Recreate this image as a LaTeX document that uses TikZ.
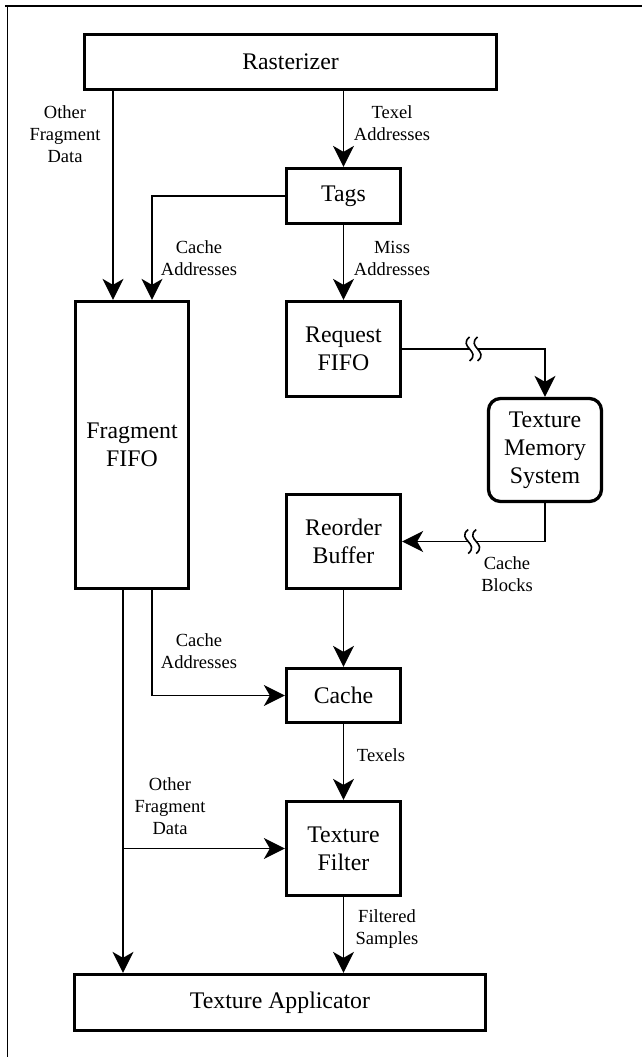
\documentclass[tikz,border=0pt]{standalone}
\usepackage{fontspec}
\setmainfont{Liberation Serif}
\usetikzlibrary{arrows.meta,calc}
\begin{document}
\begin{tikzpicture}[x=1pt,y=-1pt,
  box/.style={draw,line width=3.3pt,inner sep=0pt,align=center,font=\fontsize{23.8}{28}\selectfont},
  lbl/.style={inner sep=0pt,align=center,font=\fontsize{18.5}{22}\selectfont},
  arr/.style={line width=1.5pt,-{Stealth[length=21pt,width=21pt,inset=6pt]}},
  brk/.pic={
    \fill[white] (-4,-10) rectangle (4,10);
    \draw[line width=1.6pt] (-4,-12) .. controls (-16,-2) and (8,2) .. (-4,12);
    \draw[line width=1.6pt] (4,-12) .. controls (-8,-2) and (16,2) .. (4,12);
  }]
\useasboundingbox (0,0) rectangle (642,1057);
% frame
\draw[line width=2pt] (5,6) -- (642,6);
\draw[line width=1pt] (7,6) -- (7,1057);

% boxes
\node[box,minimum width=412pt,minimum height=55pt] (ras) at (290.5,62) {Rasterizer};
\node[box,minimum width=114pt,minimum height=55pt] (tags) at (343.5,196) {Tags};
\node[box,minimum width=113pt,minimum height=287pt] (ff) at (132,445) {Fragment\\FIFO};
\node[box,minimum width=114pt,minimum height=95pt] (rf) at (343.5,349) {Request\\FIFO};
\node[box,rounded corners=12pt,minimum width=113pt,minimum height=103pt] (tms) at (545,450) {Texture\\Memory\\System};
\node[box,minimum width=114pt,minimum height=94pt] (rb) at (343.5,541.5) {Reorder\\Buffer};
\node[box,minimum width=114pt,minimum height=54pt] (cache) at (343.5,695.5) {Cache};
\node[box,minimum width=114pt,minimum height=94pt] (tf) at (343.5,848.5) {Texture\\Filter};
\node[box,minimum width=411pt,minimum height=56pt] (ta) at (280,1002.5) {Texture Applicator};

% helper coordinates
\coordinate (a1) at ([xshift=-19pt]ff.north);
\coordinate (a2) at ([xshift=20pt]ff.north);
\coordinate (b1) at ([xshift=-9pt]ff.south);
\coordinate (b2) at ([xshift=20pt]ff.south);

% connectors
\draw[arr] (a1 |- ras.south) -- (a1);
\draw[arr] (ras.south -| tags.north) -- (tags.north);
\draw[arr] (tags.west) -| (a2);
\draw[arr] (tags.south) -- (rf.north);
\draw[arr] (rf.east) -| (tms.north);
\pic at ($(rf.east)!0.5!(rf.east -| tms.north)$) {brk};
\draw[arr] (tms.south) |- (rb.east);
\pic at ($(rb.east)!0.49!(rb.east -| tms.south)$) {brk};
\draw[arr] (rb.south) -- (cache.north);
\draw[arr] (b2) |- (cache.west);
\draw[arr] (cache.south) -- (tf.north);
\draw[arr] (b1) -- (b1 |- ta.north);
\draw[arr] (b1 |- tf.west) -- (tf.west);
\draw[arr] (tf.south) -- (ta.north -| tf.south);

% labels
\node[lbl] (l1) at (65,134) {Other\\Fragment\\Data};
\node[lbl] (l2) at (392,123) {Texel\\Addresses};
\node[lbl] (l3) at (199,258) {Cache\\Addresses};
\node[lbl] (l4) at (392,258) {Miss\\Addresses};
\node[lbl] (l5) at (507,574) {Cache\\Blocks};
\node[lbl] (l6) at (199,651) {Cache\\Addresses};
\node[lbl] (l7) at (381,755) {Texels};
\node[lbl] (l8) at (170,806) {Other\\Fragment\\Data};
\node[lbl] (l9) at (387,929) {Filtered\\Samples};
\end{tikzpicture}
\end{document}
